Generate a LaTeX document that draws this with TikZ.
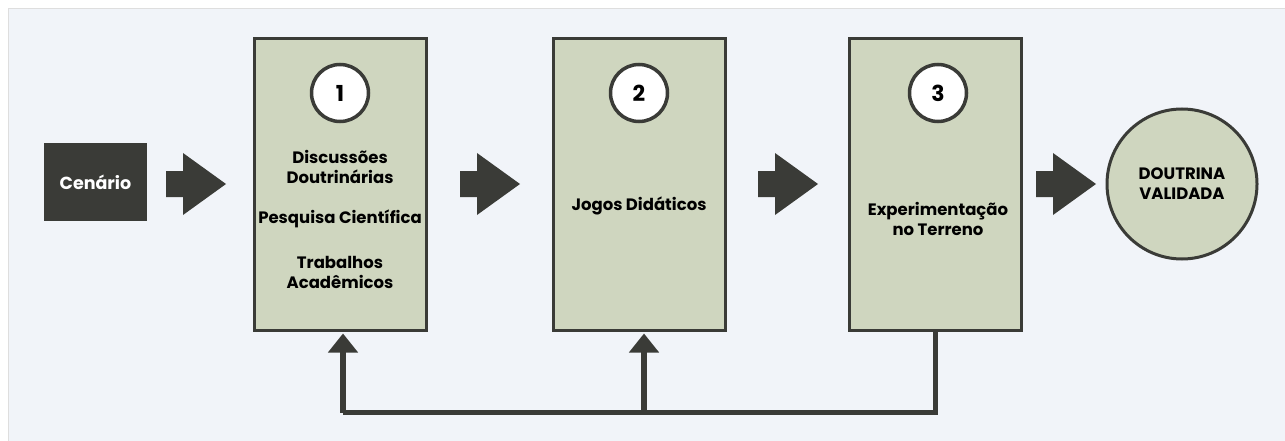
\documentclass[tikz,border=0pt]{standalone}
\usepackage{fontspec}
\setmainfont{Poppins}
\usetikzlibrary{arrows.meta}
\definecolor{bg}{HTML}{F1F4F9}
\definecolor{dk}{HTML}{3A3B37}
\definecolor{sage}{HTML}{CFD6BF}
\definecolor{edge}{HTML}{DEDEDE}
\tikzset{
  x=1pt,y=-1pt,
  stage/.style={draw=dk,line width=3pt,fill=sage,minimum width=172pt,minimum height=291pt,inner sep=0pt},
  num/.style={circle,draw=dk,line width=3.5pt,fill=white,minimum size=57pt,inner sep=0pt,font=\fontsize{22}{22}\selectfont\bfseries},
  lbl/.style={align=center,font=\fontsize{16.5}{20}\selectfont\bfseries,text=black},
  blockarrow/.style={fill=dk},
  feed/.style={draw=dk,line width=5.5pt},
  feedtip/.style={-{Triangle[width=29pt,length=19pt]}}
}
\begin{document}
\begin{tikzpicture}
\useasboundingbox (0,0) rectangle (1285,441);
\fill[white] (0,0) rectangle (1285,441);
\fill[bg,draw=edge,line width=1pt] (8,9) rectangle (1290,446);

\node[fill=dk,minimum width=103pt,minimum height=78pt,inner sep=0pt,text=white,font=\fontsize{17.5}{20}\selectfont\bfseries] (cen) at (95.5,182) {Cenário};

\node[stage] (b1) at (340,184.5) {};
\node[stage] (b2) at (639.5,184.5) {};
\node[stage] (b3) at (935.5,184.5) {};

\node[num] (n1) at (340,93) {1};
\node[num] (n2) at (639,93) {2};
\node[num] (n3) at (938,93) {3};

\node[lbl] (t1a) at (340,167) {Discussões\\Doutrinárias};
\node[lbl] (t1b) at (340,219) {Pesquisa Científica};
\node[lbl] (t1c) at (340,272) {Trabalhos\\Acadêmicos};
\node[lbl] (t2) at (639,206) {Jogos Didáticos};
\node[lbl] (t3) at (938,219) {Experimentação\\no Terreno};

\node[circle,draw=dk,line width=3pt,fill=sage,minimum size=150pt,inner sep=0pt,align=center,font=\fontsize{16.5}{20}\selectfont\bfseries] (dv) at (1182,184) {DOUTRINA\\VALIDADA};

% block arrows
\foreach \x in {166,460,758,1036}{
  \fill[blockarrow] (\x,171) -- (\x+17,171) -- (\x+17,153) -- (\x+60,184) -- (\x+17,215) -- (\x+17,197) -- (\x,197) -- cycle;
}

% feedback
\coordinate (j3) at ([yshift=-81pt]b3.south);
\coordinate (j1) at ([xshift=3pt,yshift=-81pt]b1.south);
\coordinate (j2) at ([xshift=4.5pt,yshift=-81pt]b2.south);
\draw[feed] (b3.south) -- (j3) -- (j1);
\draw[feed,feedtip,shorten >=2pt] (j1) -- ([xshift=3pt]b1.south);
\draw[feed,feedtip,shorten >=2pt] (j2) -- ([xshift=4.5pt]b2.south);
\end{tikzpicture}
\end{document}
